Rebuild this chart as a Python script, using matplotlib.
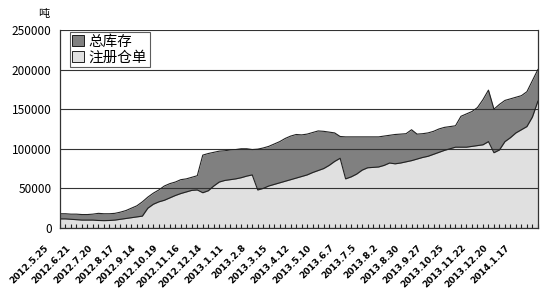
import numpy as np
import matplotlib
matplotlib.use('Agg')
import matplotlib.pyplot as plt
import matplotlib.transforms as mtransforms
from matplotlib.patches import Patch

plt.rcParams['font.family'] = ['Noto Sans CJK SC', 'DejaVu Sans']

# weekly data, tonnes
total_stock = [18000, 18000, 17500, 17500, 17000, 17000, 17500, 18500, 18000, 18000,
               18500, 20000, 22000, 25000, 28000, 33000, 39000, 44000, 48000, 53000,
               56000, 58000, 61000, 62000, 64000, 66000, 92000, 94000, 95500, 97000,
               97500, 98500, 99000, 100000, 100000, 99000, 99500, 101000, 103000, 106000,
               109000, 113000, 116000, 118000, 117500, 118500, 120500, 122500, 122000, 121000,
               120000, 115500, 115000, 115000, 115000, 115000, 115000, 115000, 115000, 116000,
               117000, 118000, 118500, 119000, 124000, 118500, 119000, 120000, 122000, 125000,
               127000, 128000, 129000, 141000, 144000, 147000, 152000, 162000, 174000, 150000,
               156000, 161000, 163000, 165000, 167000, 172000, 186000, 200000]
warrants = [11500, 11500, 11000, 10500, 10000, 10000, 10000, 9500, 9300, 9500,
            10000, 11000, 12000, 13000, 14000, 15000, 25000, 30000, 33000, 35000,
            38000, 41000, 43500, 45500, 47500, 48000, 44500, 47000, 53000, 58000,
            60000, 61000, 62000, 63500, 65500, 67000, 48000, 50000, 53000, 55000,
            57000, 59000, 61000, 63000, 65000, 67000, 70000, 72500, 75000, 79000,
            84000, 88000, 62000, 64500, 68000, 73000, 76000, 76500, 77000, 79000,
            82000, 81000, 82000, 83500, 85000, 87000, 89000, 90500, 93000, 95500,
            98000, 100000, 102000, 102000, 102000, 103000, 104000, 105000, 109000, 95000,
            98500, 109000, 114000, 120000, 124000, 128000, 140000, 160000]
date_labels = ['2012.5.25', '2012.6.21', '2012.7.20', '2012.8.17', '2012.9.14',
               '2012.10.19', '2012.11.16', '2012.12.14', '2013.1.11', '2013.2.8',
               '2013.3.15', '2013.4.12', '2013.5.10', '2013.6.7', '2013.7.5',
               '2013.8.2', '2013.8.30', '2013.9.27', '2013.10.25', '2013.11.22',
               '2013.12.20', '2014.1.17']
series_names = ['总库存', '注册仓单']

x = np.arange(len(total_stock))

fig = plt.figure(figsize=(5.5, 3.02), dpi=100)
ax = fig.add_axes([0.109, 0.245, 0.869, 0.656])

ax.fill_between(x, 0, total_stock, color='#808080', lw=0)
ax.plot(x, total_stock, color='#222222', lw=0.8)
ax.fill_between(x, 0, warrants, color='#e0e0e0', lw=0)
ax.plot(x, warrants, color='#222222', lw=0.8)

ax.set_xlim(0, len(x) - 1)
ax.set_ylim(0, 250000)
ax.set_yticks(np.arange(0, 250001, 50000))
ax.yaxis.grid(True, color='#333333', lw=0.8)
for line in ax.get_ygridlines():
    line.set_zorder(0.5)

ax.set_xticks(x, minor=True)
ax.set_xticks(x[::4])
ax.set_xticklabels(date_labels[:len(x[::4])], rotation=45, ha='right',
                   fontsize=6.5, fontweight='bold', family='DejaVu Sans')
ax.tick_params(axis='x', which='both', direction='in', length=3, width=0.8,
               colors='#222222', pad=8)
ax.tick_params(axis='x', labelcolor='black')
ax.tick_params(axis='y', length=0, labelsize=8.5, pad=6)

# shift the rotated date labels a bit left and down
offset = mtransforms.ScaledTranslation(-10 / 100, -4 / 100, fig.dpi_scale_trans)
for lbl in ax.get_xticklabels():
    lbl.set_transform(lbl.get_transform() + offset)

for s in ax.spines.values():
    s.set_color('#333333')
    s.set_linewidth(0.9)
ax.spines['top'].set_visible(False)

fig.text(0.08, 0.955, '吨', fontsize=8, ha='center', va='center')

handles = [Patch(facecolor='#808080', edgecolor='black', lw=0.6),
           Patch(facecolor='#e0e0e0', edgecolor='black', lw=0.6)]
leg = ax.legend(handles, series_names, loc='upper left', bbox_to_anchor=(0.02, 0.99),
                fontsize=10.5, frameon=True, fancybox=False, handlelength=0.8,
                handleheight=0.8, handletextpad=0.3, borderpad=0.2,
                labelspacing=0.1, borderaxespad=0)
leg.get_frame().set_edgecolor('#333333')
leg.get_frame().set_linewidth(0.8)

fig.savefig('out.png', dpi=100)
